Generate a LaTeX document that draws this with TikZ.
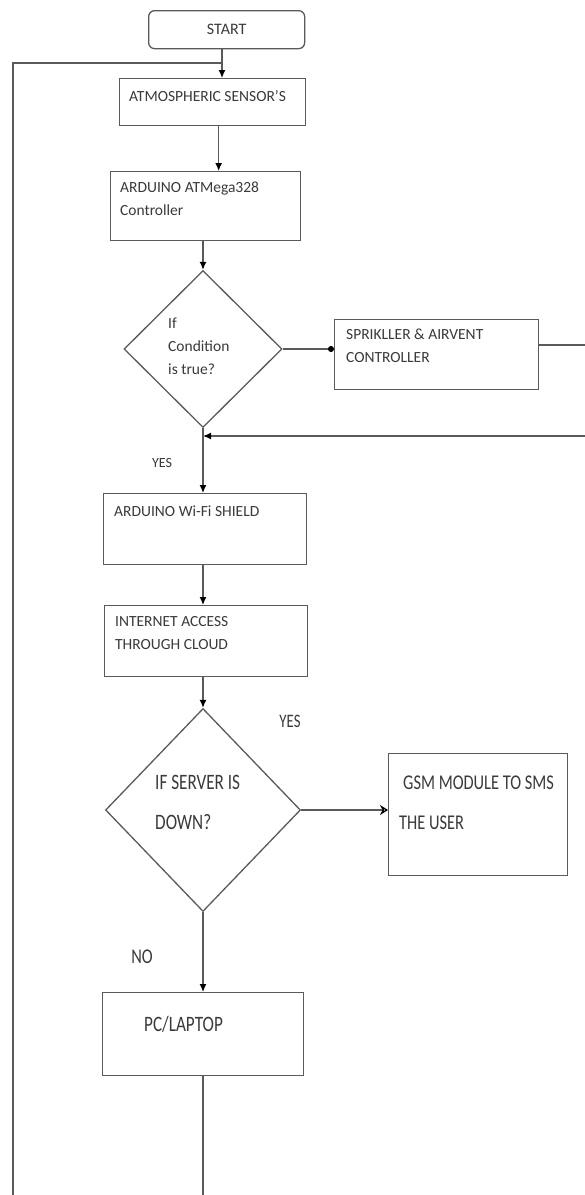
\documentclass[tikz,border=0pt]{standalone}
\usepackage{fontspec}
\setmainfont{Carlito}
\newfontfamily\condfont[FakeStretch=0.78]{Carlito}
\usetikzlibrary{shapes.geometric,arrows.meta,calc}
\definecolor{ln}{HTML}{5A5A5A}
\definecolor{tx}{HTML}{3A3A3A}
\tikzset{
  boxn/.style={draw=ln, line width=1.3pt, rectangle, inner sep=0pt, anchor=north west},
  dia/.style={draw=ln, line width=1.3pt, diamond, inner sep=0pt},
  lbl/.style={text=tx, inner sep=0pt, anchor=west, align=left},
  small/.style={font=\fontsize{15.5}{23}\selectfont},
  big/.style={font=\condfont\fontsize{22}{40}\selectfont},
  conn/.style={draw=ln, line width=1.3pt},
  arr/.style={conn, -{Latex[length=8pt,width=7pt,color=black,fill=black]}}
}
\begin{document}
\begin{tikzpicture}[x=1pt,y=-1pt]
\useasboundingbox (0,0) rectangle (585,1195);
\fill[white] (0,0) rectangle (585,1195);
% nodes
\node[boxn, rounded corners=6pt, minimum width=156pt, minimum height=38pt] (start) at (148,10) {};
\node[text=tx, inner sep=0pt, font=\fontsize{16}{18}\selectfont] (startT) at (start.center) {START};
\node[boxn, minimum width=186pt, minimum height=47pt] (atm) at (119,78) {};
\node[lbl, small] (atmT) at (129,96) {ATMOSPHERIC SENSOR'S};
\node[boxn, minimum width=190pt, minimum height=69pt] (ard) at (110,171) {};
\node[lbl, small] (ardT) at (120,199) {ARDUINO ATMega328\\Controller};
\node[dia, minimum width=158pt, minimum height=157pt] (d1) at (203,349) {};
\node[lbl, small] (d1T) at (168,346) {If\\Condition\\is true?};
\node[boxn, minimum width=204pt, minimum height=70pt] (sprk) at (334,319) {};
\node[lbl, small] (sprkT) at (346,346) {SPRIKLLER \& AIRVENT\\CONTROLLER};
\node[text=tx, inner sep=0pt, font=\fontsize{14}{16}\selectfont] (yes1) at (162,463) {YES};
\node[boxn, minimum width=203pt, minimum height=71pt] (wifi) at (103,493) {};
\node[lbl, small] (wifiT) at (114,511) {ARDUINO Wi-Fi SHIELD};
\node[boxn, minimum width=203pt, minimum height=71pt] (inet) at (104,605) {};
\node[lbl, small] (inetT) at (115,633) {INTERNET ACCESS\\THROUGH CLOUD};
\node[dia, minimum width=195pt, minimum height=203pt] (d2) at (203,810) {};
\node[lbl, big] (d2T) at (155,802) {IF SERVER IS\\DOWN?};
\node[text=tx, inner sep=0pt, font=\condfont\fontsize{19}{21}\selectfont] (yes2) at (290,721) {YES};
\node[boxn, minimum width=179pt, minimum height=122pt] (gsm) at (388,753) {};
\node[lbl, font=\condfont\fontsize{21}{40}\selectfont] (gsmT) at (399,803) {\hspace*{4pt}GSM MODULE TO SMS\\THE USER};
\node[text=tx, inner sep=0pt, font=\condfont\fontsize{21}{24}\selectfont] (no) at (142,957) {NO};
\node[boxn, minimum width=201pt, minimum height=83pt] (pc) at (102,992) {};
\node[lbl, font=\condfont\fontsize{22}{24}\selectfont] (pcT) at (144,1024) {PC/LAPTOP};
% coordinates
\coordinate (j1) at (222,63);
\coordinate (lt) at (13,63);
\coordinate (lb) at (13,1195);
\coordinate (r1) at (585,345);
\coordinate (r2) at (585,436);
\coordinate (pb) at (203,1195);
% connectors
\draw[conn] (start.south -| j1) -- (j1);
\draw[conn] (lb) -- (lt) -- (j1);
\draw[arr] (j1) -- (atm.north -| j1);
\draw[arr] ([xshift=6pt]atm.south) -- ([xshift=6pt]atm.south |- ard.north);
\draw[arr] (d1.north |- ard.south) -- (d1.north);
\draw[conn, -{Circle[length=6pt,color=black,fill=black]}] (d1.east) -- (d1.east -| sprk.west);
\draw[conn] (sprk.east |- r1) -- (r1);
\draw[arr] (r2) -- (d1.south |- r2);
\draw[arr] (d1.south) -- (d1.south |- wifi.north);
\draw[arr] (d1.south |- wifi.south) -- (d1.south |- inet.north);
\draw[arr] (d2.north |- inet.south) -- (d2.north);
\draw[conn, -{Stealth[length=8pt,width=10pt,open,color=black]}] (d2.east) -- (d2.east -| gsm.west);
\draw[arr] (d2.south) -- (d2.south |- pc.north);
\draw[conn] (d2.south |- pc.south) -- (pb);
\end{tikzpicture}
\end{document}
